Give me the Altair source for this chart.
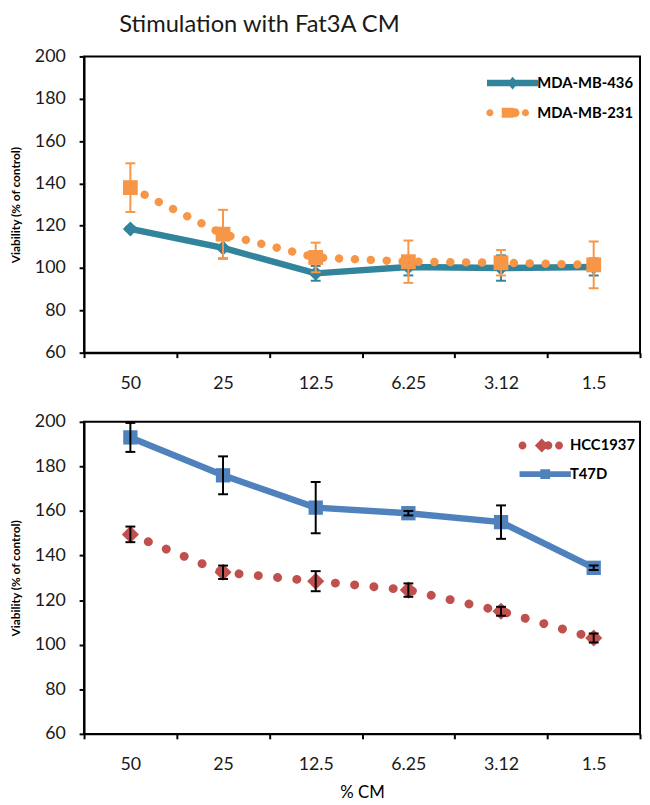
import altair as alt
import pandas as pd

# ---------------- data ----------------
cm = ["50", "25", "12.5", "6.25", "3.12", "1.5"]

mda436 = [118.5, 109.5, 97.5, 100.5, 100.0, 100.5]
mda436_err = [1.0, 5.0, 3.5, 4.0, 6.0, 4.0]
mda231 = [138.0, 116.0, 105.0, 103.0, 102.5, 101.5]
mda231_err = [11.5, 11.5, 7.0, 10.0, 6.0, 11.0]

hcc1937 = [149.5, 132.5, 128.5, 124.5, 115.0, 103.0]
hcc1937_err = [3.5, 3.0, 4.5, 3.0, 2.0, 2.0]
t47d = [193.0, 176.0, 161.5, 159.0, 155.0, 134.5]
t47d_err = [6.5, 8.5, 11.5, 1.0, 7.5, 1.0]

y_ticks = [60, 80, 100, 120, 140, 160, 180, 200]

TEAL = "#31849B"
ORANGE = "#F79646"
BLUE = "#4F81BD"
RED = "#C0504D"

# legend glyphs (unit coordinates, scaled by sqrt(symbolSize)/2)
def circ(cx, r):
    return f"M{cx - r},0 a{r},{r} 0 1,1 {2 * r},0 a{r},{r} 0 1,1 {-2 * r},0 Z "

def rect(x0, x1, y0, y1):
    return f"M{x0},{y0} L{x1},{y0} L{x1},{y1} L{x0},{y1} Z "

def diam(cx, hx, hy):
    return f"M{cx},{-hy} L{cx + hx},0 L{cx},{hy} L{cx - hx},0 Z "

P_436 = rect(-2.6, 2.6, -0.33, 0.33) + diam(0, 0.55, 0.65)
P_231 = circ(-2.3, 0.36) + rect(-1.1, 0.1, -0.5, 0.5) + circ(0.25, 0.45) + circ(1.3, 0.36)
P_HCC = circ(-2.3, 0.4) + diam(-0.35, 0.7, 0.7) + circ(0.3, 0.42) + circ(1.4, 0.4)
P_T47 = rect(-2.6, 2.6, -0.3, 0.3) + rect(-0.5, 0.5, -0.5, 0.5)


def sdf(vals, errs, name):
    return pd.DataFrame({
        "cm": cm,
        "v": vals,
        "lo": [v - e for v, e in zip(vals, errs)],
        "hi": [v + e for v, e in zip(vals, errs)],
        "series": name,
    })


YTITLE = "Viability (% of control)"
yscale = alt.Scale(domain=[60, 200], nice=False, zero=False)


def xenc(show_title):
    return alt.X(
        "cm:N", sort=cm,
        scale=alt.Scale(paddingInner=0, paddingOuter=0),
        axis=alt.Axis(title="% CM" if show_title else None),
    )


def yenc(field):
    return alt.Y(field, scale=yscale, title=YTITLE, axis=alt.Axis(values=y_ticks))


def errbars(df, color, X):
    base = alt.Chart(df)
    rule = base.mark_rule(color=color, strokeWidth=2).encode(x=X, y=yenc("lo:Q"), y2="hi:Q")
    t1 = base.mark_tick(color=color, thickness=2, size=10, opacity=1).encode(x=X, y=yenc("lo:Q"))
    t2 = base.mark_tick(color=color, thickness=2, size=10, opacity=1).encode(x=X, y=yenc("hi:Q"))
    return [rule, t1, t2]


def solid(df, color, X, width=6.5):
    return alt.Chart(df).mark_line(color=color, strokeWidth=width).encode(x=X, y=yenc("v:Q"))


def dotted(df, color, X, width, gap):
    return alt.Chart(df).mark_line(
        color=color, strokeWidth=width, strokeDash=[0.1, gap], strokeCap="round"
    ).encode(x=X, y=yenc("v:Q"))


def markers(df, color, shape, size, X):
    return alt.Chart(df).mark_point(
        shape=shape, filled=True, size=size, color=color, opacity=1
    ).encode(x=X, y=yenc("v:Q"))


def legend_layer(df, field, names, colors, paths, X, lx, ly, rowpad):
    leg = alt.Legend(
        title=None, orient="none", legendX=lx, legendY=ly, padding=0,
        labelFont="Lato", labelFontSize=15, labelFontWeight="bold", labelColor="#000000",
        symbolSize=400, symbolStrokeWidth=0, symbolOpacity=1, rowPadding=rowpad,
        labelOffset=15,
    )
    return alt.Chart(df).transform_filter("false").mark_point(filled=True, opacity=1).encode(
        x=X, y=yenc("v:Q"),
        color=alt.Color(f"{field}:N", scale=alt.Scale(domain=names, range=colors), legend=leg),
        shape=alt.Shape(f"{field}:N", scale=alt.Scale(domain=names, range=paths), legend=leg),
    )


# ---------------- top panel ----------------
Xt = xenc(False)
d436 = sdf(mda436, mda436_err, "MDA-MB-436")
d231 = sdf(mda231, mda231_err, "MDA-MB-231")
dtop = pd.concat([d436, d231]).rename(columns={"series": "line_top"})
top = alt.layer(
    *errbars(d436, TEAL, Xt),
    solid(d436, TEAL, Xt),
    markers(d436, TEAL, "diamond", 230, Xt),
    dotted(d231, ORANGE, Xt, 8.5, 16),
    markers(d231, ORANGE, "square", 225, Xt),
    *errbars(d231, ORANGE, Xt),
    legend_layer(dtop, "line_top", ["MDA-MB-436", "MDA-MB-231"], [TEAL, ORANGE],
                 [P_436, P_231], Xt, 424, 17, 12),
).properties(width=563, height=300)

# ---------------- bottom panel ----------------
Xb = xenc(True)
dh = sdf(hcc1937, hcc1937_err, "HCC1937")
dt = sdf(t47d, t47d_err, "T47D")
dbot = pd.concat([dh, dt]).rename(columns={"series": "line_bottom"})
bottom = alt.layer(
    dotted(dh, RED, Xb, 9, 19.5),
    markers(dh, RED, "diamond", 300, Xb),
    *errbars(dh, "#000000", Xb),
    solid(dt, BLUE, Xb, 6.5),
    markers(dt, BLUE, "square", 210, Xb),
    *errbars(dt, "#000000", Xb),
    legend_layer(dbot, "line_bottom", ["HCC1937", "T47D"], [RED, BLUE],
                 [P_HCC, P_T47], Xb, 457, 14, 11),
).properties(width=563, height=316)

chart = alt.vconcat(top, bottom, spacing=19).resolve_scale(
    color="independent", shape="independent"
).resolve_legend(
    color="independent", shape="independent"
).properties(
    padding={"top": 0, "left": 0, "right": 0, "bottom": 0},
    title=alt.Title(
        "Stimulation with Fat3A CM", anchor="start", dx=112, dy=-3, offset=7,
        font="Lato", fontSize=24, fontWeight="normal", color="#1a1a1a",
    ),
).configure_view(
    stroke="#000000", strokeWidth=2
).configure_axis(
    grid=False, domainColor="#000000", domainWidth=2, tickColor="#000000", tickWidth=2,
    tickSize=5, labelFont="Lato", labelFontSize=18, labelColor="#1a1a1a",
    titleFont="Lato", titleColor="#000000",
).configure_axisX(
    tickBand="extent", labelAngle=0, labelPadding=17, titleFontSize=17,
    titleFontWeight="normal", titlePadding=11,
).configure_axisY(
    labelPadding=14, titleFontSize=12, titleFontWeight="bold", titlePadding=12,
)

chart.save("out.html", embed_options={"renderer": "svg", "actions": False})
